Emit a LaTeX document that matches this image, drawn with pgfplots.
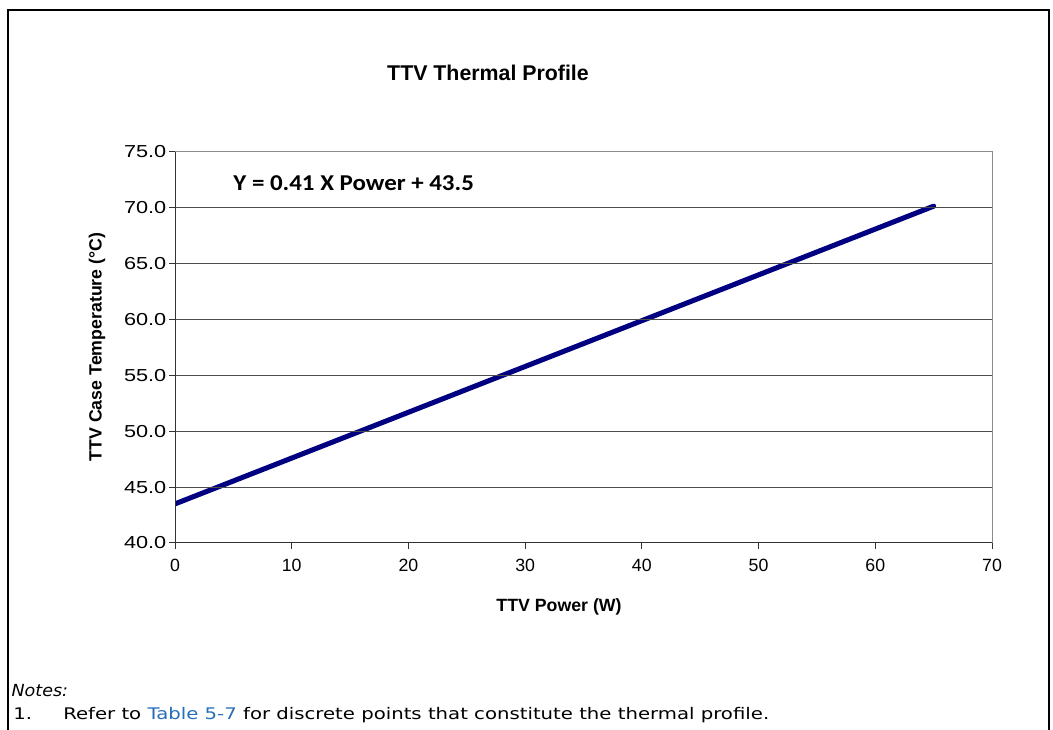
\documentclass[border=0pt]{standalone}
\usepackage{fontspec}
\setmainfont{Liberation Sans}
\newfontfamily\ytickfont[FakeStretch=1.25]{Liberation Sans}
\newfontfamily\eqfont[FakeStretch=1.1]{Carlito}
\newfontfamily\notefont[FakeStretch=1.23]{DejaVu Sans}
\newfontfamily\noteitfont[FakeStretch=1.05]{DejaVu Sans}
\usepackage{pgfplots}
\usepackage{pgfplotstable}
\pgfplotsset{compat=1.18}
\definecolor{lineblue}{RGB}{0,0,128}
\definecolor{linkblue}{RGB}{38,110,185}
\pgfplotstableread{
x y
0 43.5
5 45.55
10 47.6
15 49.65
20 51.7
25 53.75
30 55.8
35 57.85
40 59.9
45 61.95
50 64.0
55 66.05
60 68.1
65 70.15
}\profile
\begin{document}
\begin{tikzpicture}
\path[use as bounding box] (0,0) rectangle (789.75pt,547.5pt);
\draw[line width=1.5pt] (6pt,0pt) -- (6pt,540pt) -- (786.75pt,540pt) -- (786.75pt,0pt);
\begin{axis}[
  at={(131.25pt,140.25pt)}, anchor=south west,
  scale only axis, width=612.75pt, height=293.25pt,
  xmin=0, xmax=70, ymin=40, ymax=75,
  xtick={0,10,...,70}, ytick={40,45,...,75},
  tick align=outside, tick pos=left,
  major tick length=4.5pt,
  tick style={black!80, line width=0.75pt},
  axis line style={draw=black!45, line width=0.75pt},
  axis on top,
  ymajorgrids, grid style={black!70, line width=0.75pt},
  /pgf/number format/assume math mode=true,
  yticklabel style={font=\ytickfont\fontsize{13}{15}\selectfont, xshift=1.5pt,
    /pgf/number format/.cd, fixed, fixed zerofill, precision=1},
  xticklabel style={font=\fontsize{13.3}{15}\selectfont, yshift=-4pt},
]
\addplot[lineblue, line width=3.8pt, line cap=round] table[x=x,y=y] {\profile};
\node[anchor=west, font=\eqfont\bfseries\fontsize{17}{20}\selectfont] at (axis cs:4.6,72.2) {Y = 0.41 X Power + 43.5};
\end{axis}
\draw[black!80, line width=0.75pt] (131.25pt,433.5pt) -- (131.25pt,140.25pt) -- (744pt,140.25pt);
\node[font=\bfseries\fontsize{16}{19}\selectfont] at (366pt,492.75pt) {TTV Thermal Profile};
\node[rotate=90, font=\bfseries\fontsize{13.3}{16}\selectfont] at (72.75pt,287.25pt) {TTV Case Temperature (°C)};
\node[font=\bfseries\fontsize{13.3}{16}\selectfont] at (419.25pt,92.25pt) {TTV Power (W)};
\node[anchor=base west, inner sep=0pt, font=\noteitfont\itshape\fontsize{12.5}{14}\selectfont] at (8.5pt,24.75pt) {Notes:};
\node[anchor=base west, inner sep=0pt, font=\notefont\fontsize{12}{14}\selectfont] at (9.75pt,7.5pt) {1.};
\node[anchor=base west, inner sep=0pt, font=\notefont\fontsize{12}{14}\selectfont] at (47.25pt,7.5pt) {Refer to \textcolor{linkblue}{Table 5-7} for discrete points that constitute the thermal profile.};
\end{tikzpicture}
\end{document}
